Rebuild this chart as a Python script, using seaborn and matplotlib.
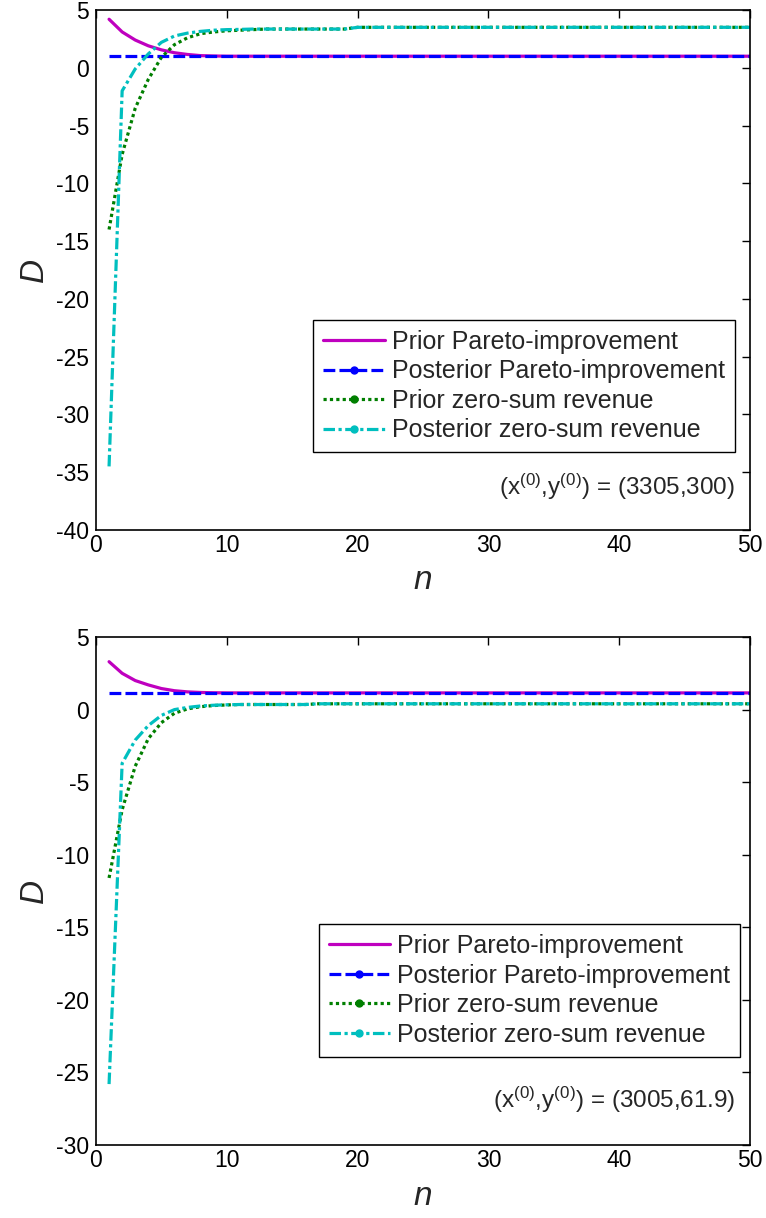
import numpy as np
import pandas as pd
import seaborn as sns
import matplotlib
matplotlib.use("Agg")
import matplotlib.pyplot as plt
from matplotlib.lines import Line2D

# ---------------- data ----------------
n_vals = list(range(1, 51))

# top panel: (x0, y0) = (3305, 300)
top_prior_pareto = [4.2, 3.1, 2.4, 1.9, 1.55, 1.3, 1.15, 1.05, 1.02, 1.0,
                    1.0, 1.0, 1.0, 1.0, 1.0, 1.0, 1.0, 1.0, 1.0, 1.0,
                    1.0, 1.0, 1.0, 1.0, 1.0, 1.0, 1.0, 1.0, 1.0, 1.0,
                    1.0, 1.0, 1.0, 1.0, 1.0, 1.0, 1.0, 1.0, 1.0, 1.0,
                    1.0, 1.0, 1.0, 1.0, 1.0, 1.0, 1.0, 1.0, 1.0, 1.0]
top_post_pareto = [1.0, 1.0, 1.0, 1.0, 1.0, 1.0, 1.0, 1.0, 1.0, 1.0,
                   1.0, 1.0, 1.0, 1.0, 1.0, 1.0, 1.0, 1.0, 1.0, 1.0,
                   1.0, 1.0, 1.0, 1.0, 1.0, 1.0, 1.0, 1.0, 1.0, 1.0,
                   1.0, 1.0, 1.0, 1.0, 1.0, 1.0, 1.0, 1.0, 1.0, 1.0,
                   1.0, 1.0, 1.0, 1.0, 1.0, 1.0, 1.0, 1.0, 1.0, 1.0]
top_prior_zs = [-14.0, -7.5, -3.5, -1.0, 0.9, 2.0, 2.6, 2.95, 3.1, 3.2,
                3.25, 3.3, 3.35, 3.35, 3.35, 3.35, 3.35, 3.35, 3.35, 3.5,
                3.5, 3.5, 3.5, 3.5, 3.5, 3.5, 3.5, 3.5, 3.5, 3.5,
                3.5, 3.5, 3.5, 3.5, 3.5, 3.5, 3.5, 3.5, 3.5, 3.5,
                3.5, 3.5, 3.5, 3.5, 3.5, 3.5, 3.5, 3.5, 3.5, 3.5]
top_post_zs = [-34.5, -2.0, -0.1, 1.2, 2.2, 2.75, 3.0, 3.15, 3.25, 3.3,
               3.32, 3.35, 3.35, 3.35, 3.35, 3.35, 3.35, 3.35, 3.35, 3.5,
               3.5, 3.5, 3.5, 3.5, 3.5, 3.5, 3.5, 3.5, 3.5, 3.5,
               3.5, 3.5, 3.5, 3.5, 3.5, 3.5, 3.5, 3.5, 3.5, 3.5,
               3.5, 3.5, 3.5, 3.5, 3.5, 3.5, 3.5, 3.5, 3.5, 3.5]

# bottom panel: (x0, y0) = (3005, 61.9)
bot_prior_pareto = [3.3, 2.5, 2.0, 1.7, 1.45, 1.3, 1.22, 1.18, 1.16, 1.15,
                    1.15, 1.15, 1.15, 1.15, 1.15, 1.15, 1.15, 1.15, 1.15, 1.15,
                    1.15, 1.15, 1.15, 1.15, 1.15, 1.15, 1.15, 1.15, 1.15, 1.15,
                    1.15, 1.15, 1.15, 1.15, 1.15, 1.15, 1.15, 1.15, 1.15, 1.15,
                    1.15, 1.15, 1.15, 1.15, 1.15, 1.15, 1.15, 1.15, 1.15, 1.15]
bot_post_pareto = [1.15, 1.15, 1.15, 1.15, 1.15, 1.15, 1.15, 1.15, 1.15, 1.15,
                   1.15, 1.15, 1.15, 1.15, 1.15, 1.15, 1.15, 1.15, 1.15, 1.15,
                   1.15, 1.15, 1.15, 1.15, 1.15, 1.15, 1.15, 1.15, 1.15, 1.15,
                   1.15, 1.15, 1.15, 1.15, 1.15, 1.15, 1.15, 1.15, 1.15, 1.15,
                   1.15, 1.15, 1.15, 1.15, 1.15, 1.15, 1.15, 1.15, 1.15, 1.15]
bot_prior_zs = [-11.6, -6.9, -3.9, -2.0, -0.9, -0.25, 0.05, 0.2, 0.28, 0.32,
                0.35, 0.35, 0.35, 0.35, 0.35, 0.35, 0.4, 0.4, 0.4, 0.4,
                0.4, 0.4, 0.4, 0.4, 0.4, 0.4, 0.4, 0.4, 0.4, 0.4,
                0.4, 0.4, 0.4, 0.4, 0.4, 0.4, 0.4, 0.4, 0.4, 0.4,
                0.4, 0.4, 0.4, 0.4, 0.4, 0.4, 0.4, 0.4, 0.4, 0.4]
bot_post_zs = [-25.8, -3.7, -2.1, -1.1, -0.4, 0.0, 0.15, 0.25, 0.3, 0.33,
               0.35, 0.35, 0.35, 0.35, 0.35, 0.35, 0.4, 0.4, 0.4, 0.4,
               0.4, 0.4, 0.4, 0.4, 0.4, 0.4, 0.4, 0.4, 0.4, 0.4,
               0.4, 0.4, 0.4, 0.4, 0.4, 0.4, 0.4, 0.4, 0.4, 0.4,
               0.4, 0.4, 0.4, 0.4, 0.4, 0.4, 0.4, 0.4, 0.4, 0.4]

series_labels = ["Prior Pareto-improvement", "Posterior Pareto-improvement",
                 "Prior zero-sum revenue", "Posterior zero-sum revenue"]
annotations = ["(x$^{(0)}$,y$^{(0)}$) = (3305,300)",
               "(x$^{(0)}$,y$^{(0)}$) = (3005,61.9)"]
x_ticks = [0, 10, 20, 30, 40, 50]
top_yticks = [-40, -35, -30, -25, -20, -15, -10, -5, 0, 5]
bot_yticks = [-30, -25, -20, -15, -10, -5, 0, 5]

# ---------------- style ----------------
sns.set_style("white")
plt.rcParams['font.family'] = ['Liberation Sans', 'DejaVu Sans']
plt.rcParams['mathtext.fontset'] = 'custom'
plt.rcParams['mathtext.rm'] = 'Liberation Sans'
plt.rcParams['mathtext.it'] = 'Liberation Sans:italic'
plt.rcParams['axes.unicode_minus'] = False

colors = ["#BF00BF", "#0000FF", "#007F00", "#00BFBF"]
styles = ["-", (0, (3.7, 1.3)), (0, (1.0, 1.0)), (0, (3.6, 1.1, 1.0, 1.1))]
lw = 2.3

fig = plt.figure(figsize=(7.66, 12.18), dpi=100)
ax1 = fig.add_axes([0.1253, 0.5649, 0.854, 0.4269])
ax2 = fig.add_axes([0.1253, 0.0599, 0.854, 0.4171])

panels = [
    (ax1, [top_prior_pareto, top_post_pareto, top_prior_zs, top_post_zs],
     (-40, 5), top_yticks, annotations[0], (0.977, 0.404), 0.083),
    (ax2, [bot_prior_pareto, bot_post_pareto, bot_prior_zs, bot_post_zs],
     (-30, 5), bot_yticks, annotations[1], (0.985, 0.435), 0.089),
]

for ax, data, ylim, yticks, ann, leg_anchor, ann_y in panels:
    for vals, c, ls in zip(data, colors, styles):
        df = pd.DataFrame({"n": n_vals, "D": vals})
        sns.lineplot(data=df, x="n", y="D", ax=ax, color=c, linestyle=ls,
                     linewidth=lw)
    ax.set_xlim(0, 50)
    ax.set_ylim(*ylim)
    ax.set_xticks(x_ticks)
    ax.set_yticks(yticks)
    ax.tick_params(direction="in", top=True, right=True, length=6,
                   width=1, labelsize=16.5, colors="black", pad=5)
    ax.tick_params(axis="x", pad=3)
    for sp in ax.spines.values():
        sp.set_visible(True)
        sp.set_color("black")
        sp.set_linewidth(1.2)
    ax.set_xlabel("n", fontsize=24, fontstyle="italic", labelpad=6)
    ax.set_ylabel("D", fontsize=24, fontstyle="italic", labelpad=4)

    handles = [Line2D([0], [0], color=colors[0], linestyle=styles[0], lw=lw)]
    for c, ls in zip(colors[1:], styles[1:]):
        handles.append(Line2D([0], [0], color=c, linestyle=ls, lw=lw,
                              marker="o", markersize=5))
    leg = ax.legend(handles, series_labels, loc="upper right",
                    bbox_to_anchor=leg_anchor, fontsize=18,
                    handlelength=2.45, handletextpad=0.3, labelspacing=0.22,
                    borderpad=0.4, borderaxespad=0, fancybox=False,
                    framealpha=1, edgecolor="black", numpoints=1)
    leg.get_frame().set_linewidth(1.0)

    ax.text(0.977, ann_y, ann, transform=ax.transAxes, ha="right",
            va="center", fontsize=17.5)

fig.savefig("out.png", dpi=100, facecolor="white")
